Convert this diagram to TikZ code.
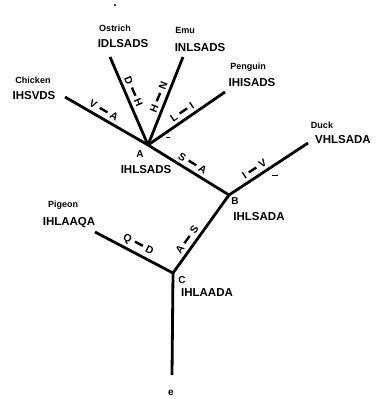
\documentclass[tikz,border=0pt]{standalone}
\usepackage{fontspec}
\setmainfont{Liberation Sans}
% substitution mark along a branch: old letter, bar, new letter
\newcommand\subst[2]{#1\hspace{4pt}\rule[2.6pt]{9pt}{2.4pt}\hspace{4pt}#2}
\begin{document}
\begin{tikzpicture}[x=1pt,y=-1pt,
  branch/.style={line width=2.8pt},
  seqtext/.style={font=\bfseries\fontsize{11.5}{12}\selectfont, inner sep=0pt},
  taxon/.style={font=\bfseries\fontsize{9}{10}\selectfont, inner sep=0pt},
  vertexname/.style={font=\bfseries\fontsize{10}{11}\selectfont, inner sep=0pt},
  mut/.style={font=\bfseries\fontsize{10.5}{12}\selectfont, sloped, above, inner sep=2.8pt}]
\useasboundingbox (0,0) rectangle (376,399);

% tree vertices and leaf ends
\coordinate (A) at (148,145);
\coordinate (B) at (229,195);
\coordinate (C) at (173,273);
\coordinate (root) at (172,375);
\coordinate (chick) at (65,97);
\coordinate (ostr) at (110,57);
\coordinate (emu) at (183,57);
\coordinate (peng) at (225,92);
\coordinate (duck) at (308,143);
\coordinate (pig) at (95,232);

% branches with substitutions
\draw[branch] (chick) -- node[mut,pos=0.42]{\subst{V}{A}} (A);
\draw[branch] (ostr) -- node[mut,pos=0.43]{\subst{D}{H}} (A);
\draw[branch] (emu) -- node[mut,pos=0.49]{\subst{H}{N}} (A);
\draw[branch] (peng) -- node[mut,pos=0.50]{\subst{L}{I}} (A);
\draw[branch] (A) -- node[mut,pos=0.50]{\subst{S}{A}} (B);
\draw[branch] (B) -- node[mut,pos=0.375]{\subst{I}{V}} (duck);
\draw[branch] (C) -- node[mut,pos=0.365]{\subst{A}{S}} (B);
\draw[branch] (pig) -- node[mut,pos=0.50]{\subst{Q}{D}} (C);
\draw[branch] (C) -- (root);

% leaf labels
\node[taxon] (nChick) at (33,80) {Chicken};
\node[seqtext] (sChick) at (34,96) {IHSVDS};
\node[taxon] (nOstr) at (115,28) {Ostrich};
\node[seqtext] (sOstr) at (123,44) {IDLSADS};
\node[taxon] (nEmu) at (185,30) {Emu};
\node[seqtext] (sEmu) at (200,48) {INLSADS};
\node[taxon] (nPeng) at (248,67) {Penguin};
\node[seqtext] (sPeng) at (252,83) {IHISADS};
\node[taxon] (nDuck) at (322,125) {Duck};
\node[seqtext] (sDuck) at (343,140) {VHLSADA};
\node[taxon] (nPig) at (63,205) {Pigeon};
\node[seqtext] (sPig) at (69,223) {IHLAAQA};

% internal vertex labels
\node[vertexname] (lA) at (140,154) {A};
\node[seqtext] (sA) at (146,170) {IHLSADS};
\node[vertexname] (lB) at (235,201) {B};
\node[seqtext] (sB) at (259,217) {IHLSADA};
\node[vertexname] (lC) at (182,280) {C};
\node[seqtext] (sC) at (207,293) {IHLAADA};
\node[vertexname] (lRoot) at (171,393) {e};

% small marks
\fill (115,5) circle (1.2pt);
\draw[line width=1pt] (166,137) -- (170,137);
\draw[line width=1pt] (272,175) -- (278,175);
\end{tikzpicture}
\end{document}
